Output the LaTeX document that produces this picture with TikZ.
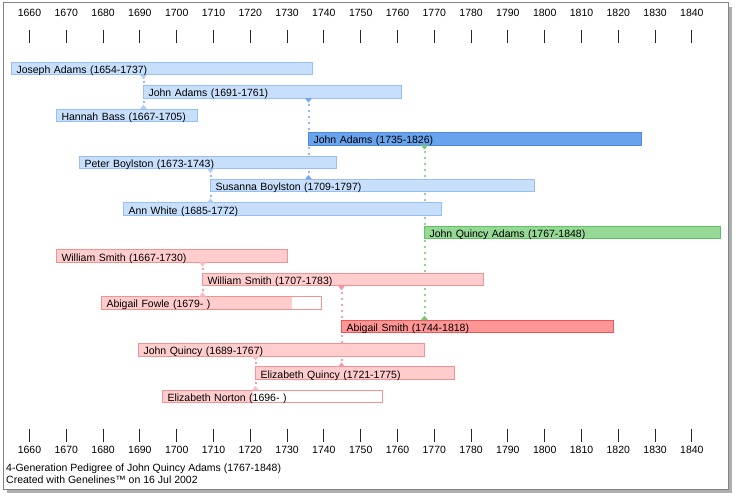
\documentclass[tikz,border=0pt]{standalone}
\usepackage{fontspec}
\setmainfont{Liberation Sans}
\pgfdeclarelayer{bg}
\pgfsetlayers{bg,main}
\definecolor{lbF}{RGB}{200,223,252}
\definecolor{lbD}{RGB}{150,192,245}
\definecolor{dbF}{RGB}{105,163,236}
\definecolor{dbD}{RGB}{75,138,225}
\definecolor{gF}{RGB}{150,217,150}
\definecolor{gD}{RGB}{95,195,95}
\definecolor{lrF}{RGB}{255,205,205}
\definecolor{lrD}{RGB}{245,145,145}
\definecolor{rF}{RGB}{255,150,150}
\definecolor{rD}{RGB}{240,85,85}
\definecolor{bC}{RGB}{150,185,235}
\definecolor{bT}{RGB}{115,165,240}
\definecolor{bTp}{RGB}{175,205,245}
\definecolor{gC}{RGB}{150,212,150}
\definecolor{gT}{RGB}{115,200,115}
\definecolor{pC}{RGB}{242,160,172}
\definecolor{pT}{RGB}{245,150,160}
\definecolor{pTp}{RGB}{250,190,195}
\definecolor{frameC}{RGB}{130,130,130}
\definecolor{shadowC}{RGB}{175,175,175}
\newcommand{\gfs}{\fontsize{10.5}{12}\selectfont}
\newcommand{\genbar}[6]{\pgfmathsetmacro{\gbw}{#3-#2-11}\node[barbase,#5,text width=\gbw pt] (#1) at (#2+0.5,#4) {#6};}
\newcommand{\ftri}[2]{\fill[#2] (#1) ++(-3.5,0) -- ++(7,0) -- ++(-3.5,4.5) -- cycle;}
\newcommand{\mtri}[2]{\fill[#2] (#1) ++(-3.5,0) -- ++(7,0) -- ++(-3.5,-4.5) -- cycle;}
\tikzset{
  barbase/.style={rectangle, anchor=west, minimum height=12.5pt, inner xsep=5pt, inner ysep=0pt,
    outer sep=0pt, align=left, text height=10pt, text depth=0pt, font=\gfs, line width=1pt},
  lb/.style={fill=lbF, draw=lbD},
  db/.style={fill=dbF, draw=dbD},
  gr/.style={fill=gF, draw=gD},
  lr/.style={fill=lrF, draw=lrD},
  rd/.style={fill=rF, draw=rD},
  conn/.style={line width=2pt, dash pattern=on 2pt off 4pt},
  lbl/.style={font=\gfs, inner sep=0pt, anchor=base},
  tickmark/.style={line width=1pt, black!85},
}
\begin{document}
\begin{tikzpicture}[x=1pt,y=-1pt]
\useasboundingbox (0,0) rectangle (735,495);
% frame with shadow (bottom layer)
\begin{pgfonlayer}{bg}
\fill[shadowC] (7,7) rectangle (732,493);
\filldraw[fill=white, draw=frameC, line width=1pt] (3,3) rectangle (728,489);
\end{pgfonlayer}
% time scale
\foreach \k in {0,...,18}{
  \pgfmathsetmacro{\yr}{int(1660+10*\k)}
  \pgfmathsetmacro{\xx}{29.5+36.8*\k}
  \node[lbl] (top\k) at (\xx,17) {\yr};
  \node[lbl] (bot\k) at (\xx,453) {\yr};
  \draw[tickmark] (\xx,30) -- (\xx,43);
  \draw[tickmark] (\xx,429) -- (\xx,442);
}
% bars
\genbar{joseph}{11}{313}{68.5}{lb}{Joseph Adams (1654-1737)}
\genbar{johnA}{143}{402}{91.9}{lb}{John Adams (1691-1761)}
\genbar{hannah}{56}{198}{115.4}{lb}{Hannah Bass (1667-1705)}
\genbar{johnB}{308}{642}{138.8}{db}{John Adams (1735-1826)}
\genbar{peter}{79}{337}{162.3}{lb}{Peter Boylston (1673-1743)}
\genbar{susanna}{210}{535}{185.7}{lb}{Susanna Boylston (1709-1797)}
\genbar{ann}{123}{442}{209.1}{lb}{Ann White (1685-1772)}
\genbar{jqa}{424}{721}{232.6}{gr}{John Quincy Adams (1767-1848)}
\genbar{wsmithA}{56}{288}{256}{lr}{William Smith (1667-1730)}
\genbar{wsmithB}{202}{484}{279.5}{lr}{William Smith (1707-1783)}
\genbar{abigailF}{101}{322}{302.9}{fill=white, draw=lrD, path picture={\fill[lrF] (path picture bounding box.north west) rectangle ([xshift=190pt]path picture bounding box.south west);}}{Abigail Fowle (1679- )}
\genbar{abigailS}{341}{614}{326.3}{rd}{Abigail Smith (1744-1818)}
\genbar{johnQ}{138}{425}{349.8}{lr}{John Quincy (1689-1767)}
\genbar{elizQ}{255}{455}{373.2}{lr}{Elizabeth Quincy (1721-1775)}
\genbar{elizN}{162}{383}{396.7}{fill=white, draw=lrD, path picture={\fill[lrF] (path picture bounding box.north west) rectangle ([xshift=90pt]path picture bounding box.south west);}}{Elizabeth Norton (1696- )}
% connectors behind bars
\begin{pgfonlayer}{bg}
\draw[conn, bC] (joseph.south -| johnA.west) -- (johnA.north west);
\draw[conn, bC] (hannah.north -| johnA.west) -- (johnA.south west);
\draw[conn, bC] (johnA.south -| johnB.west) -- (johnB.north west);
\draw[conn, bC] (susanna.north -| johnB.west) -- (johnB.south west);
\draw[conn, bC] (peter.south -| susanna.west) -- (susanna.north west);
\draw[conn, bC] (ann.north -| susanna.west) -- (susanna.south west);
\draw[conn, gC] (johnB.south -| jqa.west) -- (jqa.north west);
\draw[conn, gC] (abigailS.north -| jqa.west) -- (jqa.south west);
\draw[conn, pC] (wsmithA.south -| wsmithB.west) -- (wsmithB.north west);
\draw[conn, pC] (abigailF.north -| wsmithB.west) -- (wsmithB.south west);
\draw[conn, pC] (wsmithB.south -| abigailS.west) -- (abigailS.north west);
\draw[conn, pC] (elizQ.north -| abigailS.west) -- (abigailS.south west);
\draw[conn, pC] (johnQ.south -| elizQ.west) -- (elizQ.north west);
\draw[conn, pC] (elizN.north -| elizQ.west) -- (elizQ.south west);
\end{pgfonlayer}
% triangles
\ftri{joseph.south -| johnA.west}{bTp}
\mtri{hannah.north -| johnA.west}{bTp}
\ftri{johnA.south -| johnB.west}{bT}
\mtri{susanna.north -| johnB.west}{bT}
\ftri{peter.south -| susanna.west}{bTp}
\mtri{ann.north -| susanna.west}{bTp}
\ftri{johnB.south -| jqa.west}{gT}
\mtri{abigailS.north -| jqa.west}{gT}
\ftri{wsmithA.south -| wsmithB.west}{pTp}
\mtri{abigailF.north -| wsmithB.west}{pTp}
\ftri{wsmithB.south -| abigailS.west}{pT}
\mtri{elizQ.north -| abigailS.west}{pT}
\ftri{johnQ.south -| elizQ.west}{pTp}
\mtri{elizN.north -| elizQ.west}{pTp}
% footer
\node[lbl, anchor=base west] (foot1) at (6,471.3) {4-Generation Pedigree of John Quincy Adams (1767-1848)};
\node[lbl, anchor=base west] (foot2) at (6,483.5) {Created with Genelines™ on 16 Jul 2002};
\end{tikzpicture}
\end{document}
